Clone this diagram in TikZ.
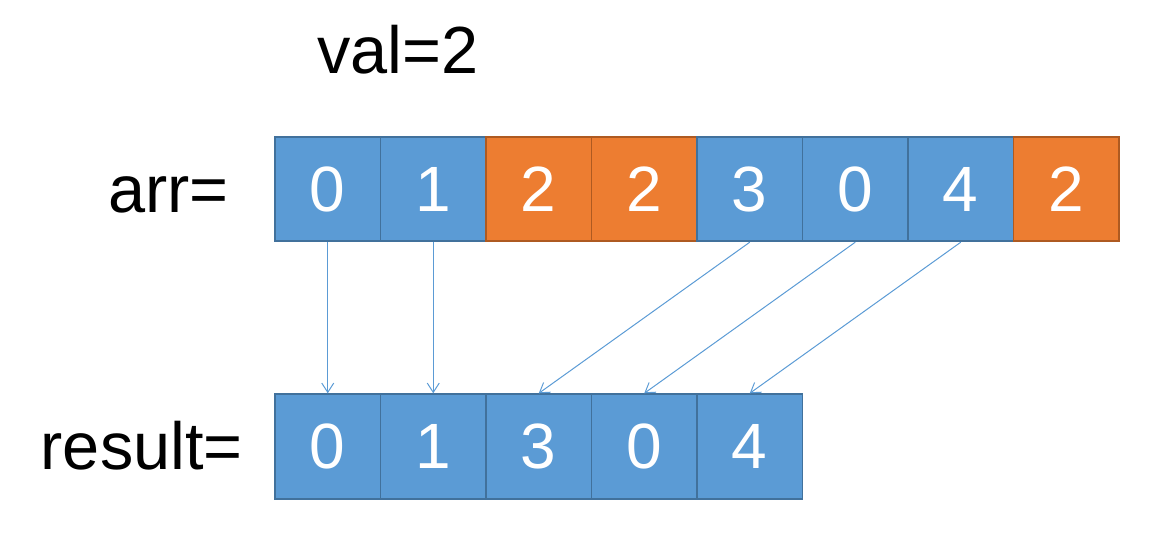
\documentclass[tikz,border=0pt]{standalone}
\usepackage{fontspec}
\setmainfont{Liberation Sans}
\usepackage{tikz}
\usetikzlibrary{arrows.meta}
\definecolor{cellblue}{HTML}{5B9BD5}
\definecolor{cellblueline}{HTML}{41719C}
\definecolor{cellorange}{HTML}{ED7D31}
\definecolor{cellorangeline}{HTML}{AE5A21}

\begin{document}
\begin{tikzpicture}[x=0.75pt,y=0.75pt,yscale=-1,xscale=1,
    cell/.style={minimum width=79.1pt,minimum height=78.4pt,inner sep=0pt,text=white,font=\fontsize{48}{48}\selectfont,line width=1.4pt},
    bluecell/.style={cell,fill=cellblue,draw=cellblueline},
    orangecell/.style={cell,fill=cellorange,draw=cellorangeline},
    lbl/.style={inner sep=0pt,font=\fontsize{50}{50}\selectfont},
    mv/.style={draw=cellblue,line width=0.75pt,-{Straight Barb[length=7pt,width=9pt]}}]
    \useasboundingbox (0,0) rectangle (1162,540);

    % Text Node
    \node[lbl,anchor=base] (val) at (398,73) {val=2};
    % Text Node
    \node[lbl,anchor=base east] (arrlbl) at (229,212) {arr=};
    % Text Node
    \node[lbl,anchor=base east] (reslbl) at (243,469) {result=};

    % arr cells
    \foreach \v/\s [count=\i] in {0/bluecell,1/bluecell,2/orangecell,2/orangecell,3/bluecell,0/bluecell,4/bluecell,2/orangecell}
        \node[\s] (a\i) at ({275+105.5*(\i-0.5)},189) {\v};
    % result cells
    \foreach \v [count=\i] in {0,1,3,0,4}
        \node[bluecell] (r\i) at ({275+105.5*(\i-0.5)},446.5) {\v};

    % copy arrows
    \foreach \s/\t in {1/1,2/2,5/3,6/4,7/5}
        \draw[mv] (a\s.south) -- (r\t.north);

\end{tikzpicture}
\end{document}
